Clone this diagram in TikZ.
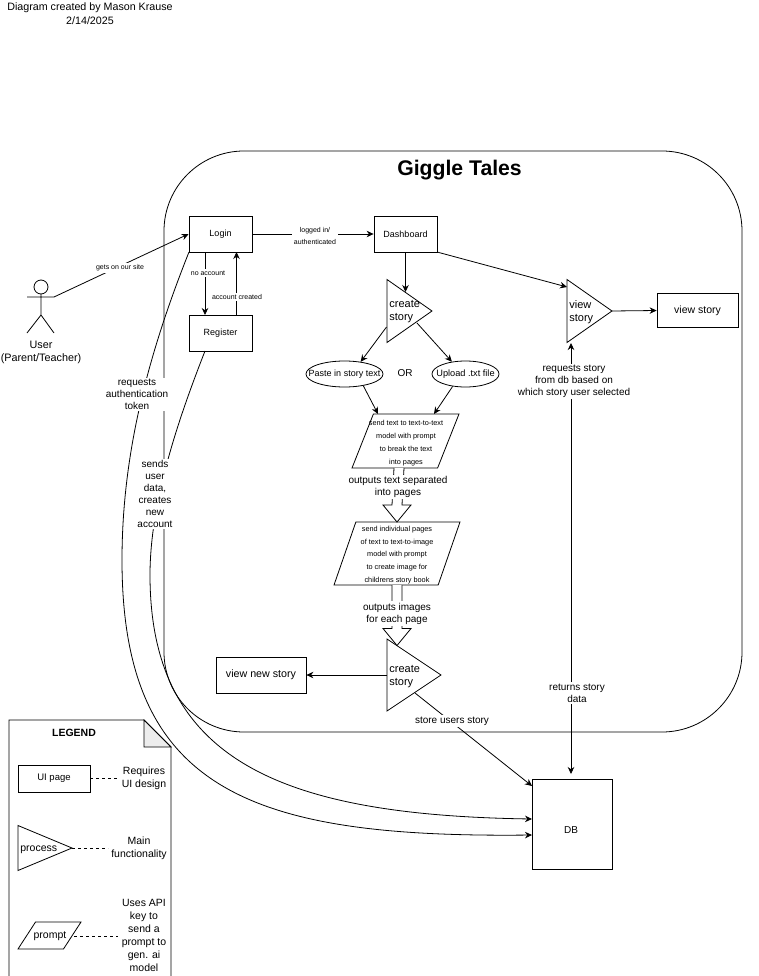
\documentclass[tikz,border=0pt]{standalone}
\usepackage{fontspec}
\setmainfont{Liberation Sans}
\usetikzlibrary{shapes.geometric,arrows.meta,calc}
\tikzset{
  box/.style={draw,rectangle,inner sep=0pt,font=\fontsize{9}{12}\selectfont},
  oval/.style={draw,ellipse,inner sep=0pt,minimum width=#1,minimum height=26pt},
  proc/.style={draw,isosceles triangle,isosceles triangle stretches,inner sep=0pt,outer sep=0pt,anchor=apex},
  prompt/.style={draw,trapezium,trapezium stretches=true,inner sep=0pt,outer sep=0pt},
  txt/.style={inner sep=0pt,align=center,font=\fontsize{10}{12.5}\selectfont},
  bigtxt/.style={inner sep=0pt,align=left,anchor=west,font=\fontsize{11}{13}\selectfont},
  lbl/.style={fill=white,inner sep=1.5pt,align=center,font=\fontsize{10}{12}\selectfont},
  tinylbl/.style={fill=white,inner sep=1.5pt,align=center,font=\fontsize{7}{12}\selectfont},
  tinytxt/.style={inner sep=0pt,align=center,font=\fontsize{7.3}{12.8}\selectfont},
  arr/.style={-{Stealth[length=7pt,width=6.5pt]}},
  arrboth/.style={{Stealth[length=7pt,width=6.5pt]}-{Stealth[length=7pt,width=6.5pt]}},
  blockarrow/.style={fill=white,to path={
    ($(\tikztostart)+(-5,0)$) -- ($(\tikztotarget)+(-5,-17)$) -- ($(\tikztotarget)+(-14,-17)$) -- (\tikztotarget)
    -- ($(\tikztotarget)+(14,-17)$) -- ($(\tikztotarget)+(5,-17)$) -- ($(\tikztostart)+(5,0)$)}}
}
\begin{document}
\begin{tikzpicture}[x=1pt,y=-1pt,line width=.8pt]
\useasboundingbox (0,0) rectangle (758,976);
\node (credit)[txt,font=\fontsize{10.7}{13.5}\selectfont] at (90,13.5) {Diagram created by Mason Krause\\2/14/2025};

% system boundary
\draw[rounded corners=80pt] (164,151) rectangle (742,732);
\node (title)[inner sep=0pt,font=\fontsize{21.2}{24}\selectfont\bfseries] at (459.5,170) {Giggle Tales};

% user
\draw (41,287) circle (7);
\draw (27,297) -- (54,297) (41,294) -- (41,315) (27,333) -- (41,315) -- (54,333);
\coordinate (hand) at (54,297);
\node (user)[txt,font=\fontsize{10.8}{13}\selectfont] at (41,352) {User\\(Parent/Teacher)};

% pages
\node (login)[box,minimum width=63pt,minimum height=36pt] at (220.5,234) {Login};
\node (register)[box,minimum width=63pt,minimum height=36pt] at (220.5,333) {Register};
\node (dash)[box,minimum width=63pt,minimum height=36pt] at (405.5,234) {Dashboard};
\node (viewrect)[box,minimum width=81pt,minimum height=34pt,font=\fontsize{10.5}{12}\selectfont] at (697.5,310.5) {view story};
\node (newrect)[box,minimum width=90pt,minimum height=36pt,font=\fontsize{10.7}{12}\selectfont] at (261,675) {view new story};

% processes
\node (create)[proc,minimum height=45pt,minimum width=63pt] at (432,311) {};
\node (createb)[proc,minimum height=54pt,minimum width=72pt] at (441,675) {};
\node (view)[proc,minimum height=45pt,minimum width=63pt] at (612,311) {};
\node (createtxt)[bigtxt] at (389,312) {create\\story};
\node (createbtxt)[bigtxt] at (389,677) {create\\story};
\node (viewtxt)[bigtxt] at (569,312) {view\\story};

\node (paste)[oval=77pt] at (344.5,374) {};
\node (upload)[oval=67pt] at (465.5,374) {};
\node (pastetxt)[txt,font=\fontsize{9}{12}\selectfont] at (344.5,374) {Paste in story text};
\node (uploadtxt)[txt,font=\fontsize{9.2}{12}\selectfont] at (465.5,374) {Upload .txt file};
\node (ortxt)[txt] at (405,373) {OR};

% prompts
\node (ptext)[prompt,trapezium left angle=72.5,trapezium right angle=107.5,minimum width=107pt,minimum height=54pt] at (405.5,441) {\phantom{x}};
\node (pimage)[prompt,trapezium left angle=75.9,trapezium right angle=104.1,minimum width=126pt,minimum height=63pt] at (397,553.5) {\phantom{x}};
\node (ptexttxt)[tinytxt] at (406,443) {send text to text-to-text\\model with prompt\\to break the text\\into pages};
\node (pimagetxt)[tinytxt] at (397,555) {send individual pages\\of text to text-to-image\\model with prompt\\to create image for\\childrens story book};

\node (db)[draw,cylinder,shape border rotate=90,aspect=2,inner sep=0pt,outer sep=0pt,minimum width=80pt,minimum height=90pt] at (572,825) {};
\node (dbtxt)[txt] at (571,830) {DB};

% free ends
\coordinate (createin) at (405.5,292);
\coordinate (createl) at (386.5,327);
\coordinate (creater) at (417,323);
\coordinate (ptextl) at (378,414);
\coordinate (ptextr) at (434,414);
\coordinate (viewin) at (567,287);
\coordinate (viewb) at (571,343);
\coordinate (dbtop) at (571,774);
\coordinate (dbcorner) at (532,786);
\coordinate (createout) at (415,693);
\coordinate (dbup) at (532,819);
\coordinate (dblow) at (532,835);
\coordinate (ptextb) at (399,468);
\coordinate (pimaget) at (397,522);
\coordinate (pimageb) at (397,585);
\coordinate (createbt) at (397,645.5);
\coordinate (regout) at (205,351);
\coordinate (logout) at (189,252);
\coordinate (logreg) at (205,252);
\coordinate (reglog) at (205,315);
\coordinate (regback) at (236.5,315);
\coordinate (logback) at (236.5,252);
\coordinate (dashout) at (437,252);

\foreach \from/\to in {hand/login.west,login.east/dash.west,logreg/reglog,regback/logback,
  dash.south/createin,createl/paste.37,creater/upload.138,paste.-32/ptextl,upload.-136/ptextr,
  dashout/viewin,view.apex/viewrect.west,createb.lower side/newrect.east,createout/dbcorner}
  \draw[arr] (\from) -- (\to);
\draw[arrboth] (viewb) -- (dbtop);

\draw[blockarrow] (ptextb) to (pimaget);
\draw[blockarrow] (pimageb) to (createbt);

\draw[arr] (regout) .. controls (180,415) and (150,500) .. (150,575) .. controls (150,760) and (280,815) .. (dbup);
\draw[arr] (logout) .. controls (150,350) and (122,450) .. (122,560) .. controls (122,790) and (250,838) .. (dblow);

% labels
\node (lsite)[tinylbl] at (120,268) {gets on our site};
\node (lauth)[tinylbl] at (315,236) {logged in/\\authenticated};
\node (lnoacc)[tinylbl] at (208,273) {no account};
\node (lcreated)[tinylbl] at (237,297) {account created};
\node (ltoken)[lbl] at (137,394.5) {requests\\authentication\\token};
\node (lsends)[lbl] at (155,494) {sends\\user\\data,\\creates\\new\\account};
\node (ltext)[lbl] at (398,487) {outputs text separated\\into pages};
\node (limages)[lbl] at (397,613.5) {outputs images\\for each page};
\node (lstore)[lbl] at (452,721) {store users story};
\node (lrequest)[lbl] at (574,381.5) {requests story\\from db based on\\which story user selected};
\node (lreturn)[lbl] at (577,693) {returns story\\data};

% legend
\draw (9,976) -- (9,720) -- (144,720) -- (171,747) -- (171,976);
\draw[fill=black!7] (144,720) -- (171,747) -- (144,747) -- cycle;
\node (legend)[inner sep=0pt,font=\fontsize{10.5}{12}\selectfont\bfseries] at (74,733) {LEGEND};
\node (kpage)[box,minimum width=72pt,minimum height=27pt,font=\fontsize{9.5}{12}\selectfont] at (54,778.5) {UI page};
\node (kproc)[proc,minimum height=54pt,minimum width=45pt] at (72,848) {};
\node (kproctxt)[bigtxt,font=\fontsize{10.5}{12}\selectfont] at (20,850) {process};
\node (kprompt)[prompt,trapezium left angle=59.3,trapezium right angle=120.7,minimum width=63pt,minimum height=27pt] at (49.5,935.5) {\phantom{x}};
\node (kprompttxt)[txt,font=\fontsize{10.5}{12}\selectfont] at (50,936) {prompt};
\node (kpagenote)[txt,font=\fontsize{10.5}{13}\selectfont] at (144,778.5) {Requires\\UI design};
\node (kprocnote)[txt,font=\fontsize{10.5}{13}\selectfont] at (139,848.5) {Main\\functionality};
\node (kpromptnote)[txt,font=\fontsize{10.5}{13}\selectfont] at (144,935.5) {Uses API\\key to\\send a\\prompt to\\gen. ai\\model};
\coordinate (kpagegap) at (118,778.5);
\coordinate (kprocgap) at (108,848);
\coordinate (kpromptgap) at (118,936);
\coordinate (kpromptr) at (74,936);
\foreach \from/\to in {kpage.east/kpagegap,kproc.apex/kprocgap,kpromptr/kpromptgap}
  \draw[dashed] (\from) -- (\to);
\end{tikzpicture}
\end{document}
